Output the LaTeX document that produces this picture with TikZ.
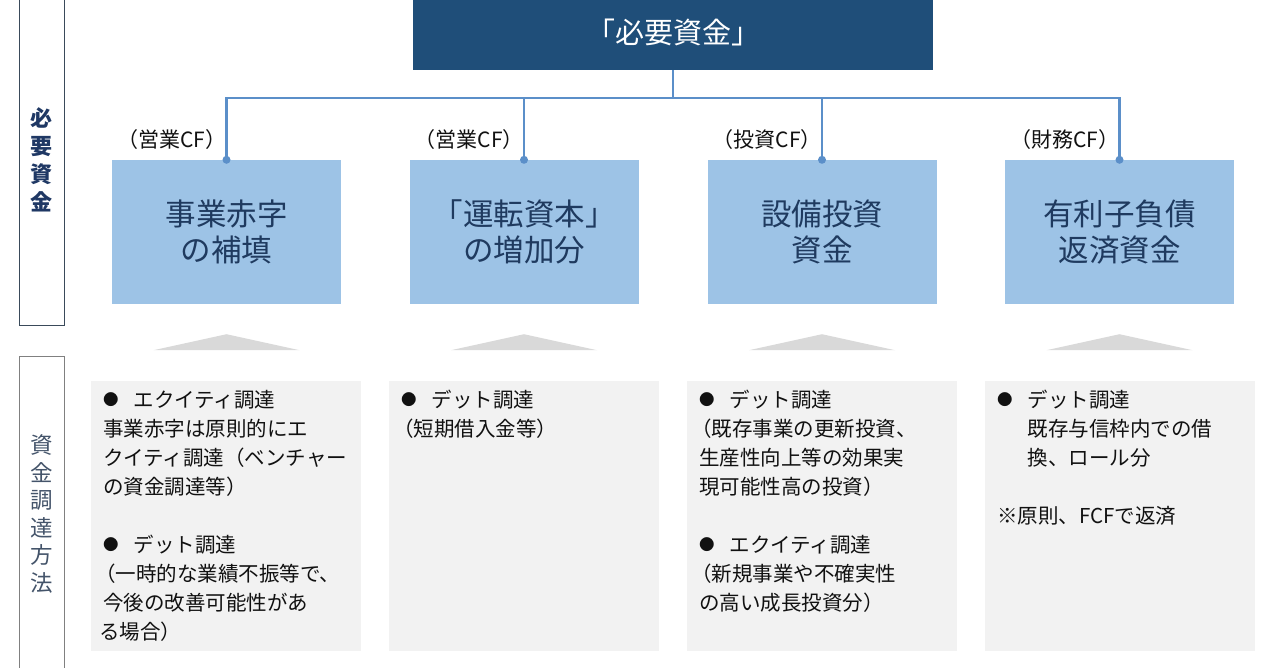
\documentclass[tikz,border=0pt]{standalone}
\usepackage{fontspec}
\setmainfont{Noto Sans CJK JP}
\usetikzlibrary{calc}
\definecolor{topfill}{HTML}{1F4E79}
\definecolor{connc}{HTML}{5B8FC9}
\definecolor{needfill}{HTML}{9DC3E6}
\definecolor{needtext}{HTML}{1F3A5F}
\definecolor{sidetextA}{HTML}{1F3864}
\definecolor{sidetextB}{HTML}{44546A}
\definecolor{sideborderA}{HTML}{3A4A5A}
\definecolor{sideborderB}{HTML}{808080}
\definecolor{trifill}{HTML}{D9D9D9}
\definecolor{fundfill}{HTML}{F2F2F2}
\definecolor{bodytext}{HTML}{111111}
\newcommand{\bul}{\raisebox{1.8pt}{\fontsize{15.5}{29}\selectfont ●}\hspace{15pt}}
\newcommand{\lp}{\hspace{-8pt}（}
\begin{document}
\begin{tikzpicture}[x=1pt,y=-1pt,
  topbox/.style={fill=topfill,text=white,inner sep=0,minimum width=520pt,minimum height=75pt,font=\fontsize{29}{32}\selectfont},
  conn/.style={draw=connc,line width=2.6pt},
  needbox/.style={fill=needfill,text=needtext,inner sep=0,minimum width=229pt,minimum height=144pt,align=center,font=\fontsize{30.5}{36}\selectfont},
  cflabel/.style={inner sep=0,text=bodytext,font=\fontsize{21}{24}\selectfont},
  fundbox/.style={fill=fundfill,inner sep=0,minimum width=270pt,minimum height=270pt},
  fundtext/.style={inner sep=0,text=bodytext,align=left,anchor=north west,font=\fontsize{20.5}{29}\selectfont},
  sideA/.style={draw=sideborderA,line width=0.8pt,inner sep=0,minimum width=45pt,minimum height=330pt,align=center,text=sidetextA,font=\fontsize{22}{28}\selectfont\bfseries},
  sideB/.style={draw=sideborderB,line width=0.8pt,inner sep=0,minimum width=45pt,minimum height=316pt,align=center,text=sidetextB,font=\fontsize{22.5}{27.5}\selectfont},
  tri/.style={fill=trifill}
]
\useasboundingbox (0,0) rectangle (1280,667);

% side labels
\node[sideA] (sA) at (41.5,160) {必\\要\\資\\金};
\node[sideB] (sB) at (41.5,514) {資\\金\\調\\達\\方\\法};

% top box
\node[topbox,anchor=south] (top) at (673,70) {「必要資金」};

% need boxes
\node[needbox] (n1) at (226.5,232) {事業赤字\\の補填};
\node[needbox] (n2) at (524,232) {「運転資本」\\の増加分};
\node[needbox] (n3) at (822,232) {設備投資\\資金};
\node[needbox] (n4) at (1119.5,232) {有利子負債\\返済資金};

% connectors
\coordinate (bus) at (673,98);
\draw[conn] (top.south) -- (bus);
\draw[conn] (n1.north) -- (n1.north |- bus) -- (n4.north |- bus) -- (n4.north);
\draw[conn] (n2.north) -- (n2.north |- bus);
\draw[conn] (n3.north) -- (n3.north |- bus);
\foreach \n in {n1,n2,n3,n4}{\fill[connc] (\n.north) circle (4pt);}

% CF labels
\node[cflabel,anchor=east] (c1) at ($(n1.north)+(0,-20)$) {（営業CF）};
\node[cflabel,anchor=east] (c2) at ($(n2.north)+(0,-20)$) {（営業CF）};
\node[cflabel,anchor=east] (c3) at ($(n3.north)+(0,-20)$) {（投資CF）};
\node[cflabel,anchor=east] (c4) at ($(n4.north)+(0,-20)$) {（財務CF）};

% triangles
\foreach \n in {n1,n2,n3,n4}{
  \fill[tri] ($(\n.south)+(-73,46)$) -- ($(\n.south)+(0,30)$) -- ($(\n.south)+(73,46)$) -- cycle;
}

% funding boxes
\node[fundbox] (f1) at (226,516) {};
\node[fundbox] (f2) at (524,516) {};
\node[fundbox] (f3) at (822,516) {};
\node[fundbox] (f4) at (1120,516) {};

\node[fundtext] (t1) at ($(f1.north west)+(12,9)$) {\bul エクイティ調達\\事業赤字は原則的にエ\\クイティ調達（ベンチャー\\の資金調達等）\\[29pt]\bul デット調達\\\lp 一時的な業績不振等で、\\今後の改善可能性があ\\\hspace{-4pt}る場合）};
\node[fundtext] (t2) at ($(f2.north west)+(12,9)$) {\bul デット調達\\\lp 短期借入金等）};
\node[fundtext] (t3) at ($(f3.north west)+(12,9)$) {\bul デット調達\\\lp 既存事業の更新投資、\\生産性向上等の効果実\\現可能性高の投資）\\[29pt]\bul エクイティ調達\\\lp 新規事業や不確実性\\の高い成長投資分）};
\node[fundtext] (t4) at ($(f4.north west)+(12,9)$) {\bul デット調達\\\phantom{\bul}既存与信枠内での借\\\phantom{\bul}換、ロール分\\[29pt]※原則、FCFで返済};
\end{tikzpicture}
\end{document}
